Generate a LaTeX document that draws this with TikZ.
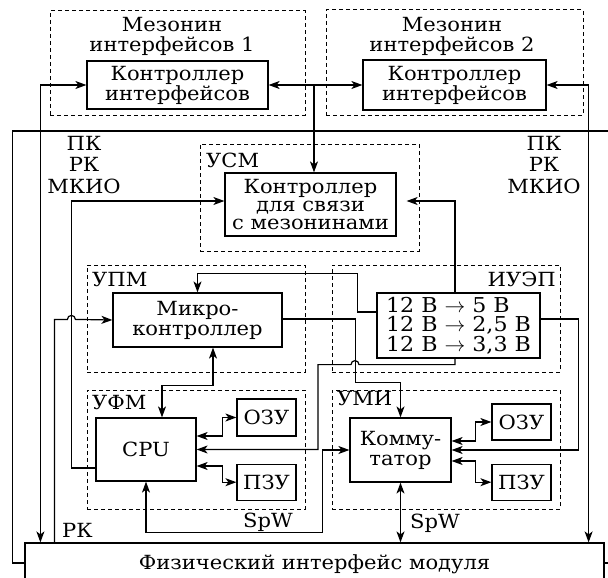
\documentclass[tikz,border=0pt]{standalone}
\usepackage{fontspec}
\setmainfont{DejaVu Serif}[FakeStretch=1.08]
\usepackage{tikz}
\usetikzlibrary{arrows.meta, positioning}
\tikzstyle{box} = [
    rectangle,
    draw=black,
    line width=1.2pt,
    inner sep=0pt,
    align=center
]
\tikzstyle{group} = [
    rectangle,
    draw=black,
    line width=1pt,
    dash pattern=on 4pt off 3pt,
    inner sep=0pt
]
\tikzstyle{tag} = [
    inner sep=0pt,
    align=center
]
\tikzstyle{wire} = [
    line width=1.2pt
]
\tikzstyle{arrow} = [
    line width=1.2pt,
    -{Stealth[length=11pt, width=8pt, inset=3pt]}
]
\tikzstyle{biarrow} = [
    line width=1.2pt,
    {Stealth[length=11pt, width=8pt, inset=3pt]}-{Stealth[length=11pt, width=8pt, inset=3pt]}
]

\begin{document}
\begin{tikzpicture}[x=1pt, y=-1pt, font=\fontsize{19.5}{20}\selectfont]
    \useasboundingbox (0,0) rectangle (608,578);

    % Groups
    \node (mez1) [group, minimum width=255pt, minimum height=104pt] at (177.5,63) {};
    \node (mez2) [group, minimum width=257pt, minimum height=105pt] at (454.5,62.5) {};
    \node (usm) [group, minimum width=219pt, minimum height=107pt] at (309.5,197.5) {};
    \node (upm) [group, minimum width=218pt, minimum height=107pt] at (196,318.5) {};
    \node (iuep) [group, minimum width=228pt, minimum height=107pt] at (446,318.5) {};
    \node (ufm) [group, minimum width=218pt, minimum height=119pt] at (196,449.5) {};
    \node (umi) [group, minimum width=228pt, minimum height=119pt] at (446,449.5) {};

    % Group titles
    \node (mez1t) [tag] at (172,36) {Мезонин\\интерфейсов 1};
    \node (mez2t) [tag] at (452,36) {Мезонин\\интерфейсов 2};
    \node (usmt) [tag, anchor=base west] at (206,167) {УСМ};
    \node (upmt) [tag, anchor=base west] at (92,286) {УПМ};
    \node (iuept) [tag, anchor=base east] at (556,286) {ИУЭП};
    \node (ufmt) [tag, anchor=base west] at (92,409) {УФМ};
    \node (umit) [tag, anchor=base west] at (337,405) {УМИ};

    % Blocks
    \node (ctrl1) [box, minimum width=181pt, minimum height=48pt] at (177.5,85) {Контроллер\\интерфейсов};
    \node (ctrl2) [box, minimum width=183pt, minimum height=50pt] at (454.5,85) {Контроллер\\интерфейсов};
    \node (usmc) [box, minimum width=171pt, minimum height=63pt, font=\fontsize{19.5}{18}\selectfont] at (310.5,204.5) {Контроллер\\для связи\\с мезонинами};
    \node (micro) [box, minimum width=169pt, minimum height=54pt] at (197.5,320) {Микро-\\контроллер};
    \node (volt) [box, minimum width=163pt, minimum height=65pt, align=left, font=\fontsize{20.5}{19.5}\selectfont] at (458.5,325.5) {12 В $\to$ 5 В\\12 В $\to$ 2,5 В\\12 В $\to$ 3,3 В};
    \node (cpu) [box, minimum width=100pt, minimum height=63pt] at (146,449.5) {CPU};
    \node (ozu1) [box, minimum width=59pt, minimum height=37pt] at (266.5,417.5) {ОЗУ};
    \node (pzu1) [box, minimum width=59pt, minimum height=36pt, below=27pt of ozu1] {ПЗУ};
    \node (comm) [box, minimum width=101pt, minimum height=64pt] at (400.5,450) {Комму-\\татор};
    \node (ozu2) [box, minimum width=59pt, minimum height=36pt] at (521.5,422) {ОЗУ};
    \node (pzu2) [box, minimum width=59pt, minimum height=36pt, below=23pt of ozu2] {ПЗУ};
    \node (phys) [box, minimum width=579pt, minimum height=42pt] at (314.5,564) {Физический интерфейс модуля};

    % Side labels
    \node (busl) [tag, font=\fontsize{19.5}{21.5}\selectfont] at (84,165) {ПК\\РК\\МКИО};
    \node (busr) [tag, font=\fontsize{19.5}{21.5}\selectfont] at (544,165) {ПК\\РК\\МКИО};
    \node (rkt) [tag, anchor=base west] at (62,537) {РК};
    \node (spw1) [tag, anchor=base west] at (243,527) {SpW};
    \node (spw2) [tag, anchor=base west] at (410,528) {SpW};

    % Outer bus
    \draw [wire] ([yshift=1pt]phys.west) -- ++(-12,0) -- ++(0,-432) -- ++(596,0) -- ++(0,432) -- ([yshift=1pt]phys.east);

    % Mezzanine links
    \coordinate (mzbus) at (314,85);
    \draw [arrow] (mzbus) -- (ctrl1.east);
    \draw [arrow] (mzbus) -- (ctrl2.west);
    \draw [arrow] (mzbus) -- (mzbus |- usmc.north);
    \draw [biarrow] (ctrl1.west) -| ([xshift=16pt]phys.north west);
    \draw [biarrow] (ctrl2.east) -| ([xshift=-16pt]phys.north east);

    % Control links
    \draw [arrow] ([yshift=-18.5pt]cpu.west) -- ++(-24,0) |- ([yshift=3.5pt]usmc.west);
    \draw [arrow] ([xshift=30pt]phys.north west) -- ++(0,-223) -- ++(13,0) arc[start angle=180, end angle=0, radius=4pt] -- (micro.west);
    \draw [arrow, shorten >=10pt] ([xshift=-3.5pt]volt.north) |- ([yshift=3.5pt]usmc.east);
    \draw [arrow] ([yshift=13.5pt]volt.west) -- ++(-19,0) |- ([yshift=19pt]micro.north) -- (micro.north);
    \draw [arrow] ([yshift=1pt]micro.east) -- ++(73,0) |- ([yshift=35pt]comm.north) -- (comm.north);
    \draw [arrow] ([xshift=-3.5pt]volt.south) -- ++(0,6) -- ++(-96,0) arc[start angle=0, end angle=180, radius=4pt] -- ++(-33,0) |- (cpu.east);
    \draw [arrow] ([yshift=6.5pt]volt.east) -- ++(38,0) |- (comm.east);
    \draw [biarrow] ([xshift=15.5pt]micro.south) -- ++(0,38) -| ([xshift=16pt]cpu.north);

    % Memory and SpW links
    \draw [biarrow] ([yshift=13.5pt]cpu.east) -- ++(26,0) |- (ozu1.west);
    \draw [biarrow] ([yshift=-16.5pt]cpu.east) -- ++(26,0) |- (pzu1.west);
    \draw [biarrow] ([yshift=9pt]comm.east) -- ++(24,0) |- (ozu2.west);
    \draw [biarrow] ([yshift=-11pt]comm.east) -- ++(24,0) |- (pzu2.west);
    \draw [biarrow] (cpu.south) -- ++(0,51) -| ([xshift=-27pt]comm.west) -- (comm.west);
    \draw [biarrow] (comm.south) -- (comm.south |- phys.north);

\end{tikzpicture}
\end{document}
